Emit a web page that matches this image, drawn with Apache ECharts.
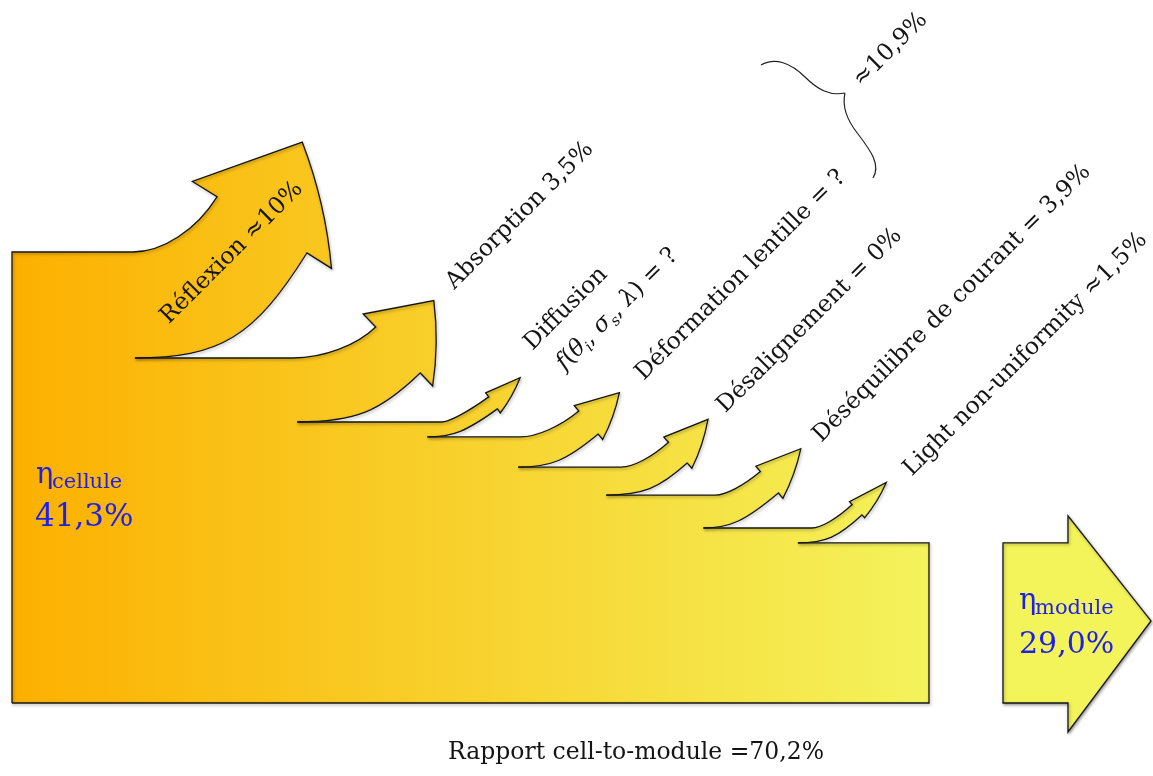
<!DOCTYPE html>
<html><head><meta charset="utf-8">
<script src="https://cdn.jsdelivr.net/npm/echarts@6/dist/echarts.min.js"></script>
<style>html,body{margin:0;padding:0;background:#fff}#chart{width:1153px;height:776px}</style>
</head><body><div id="chart"></div>
<script>
// ---------------- data ----------------
const lossLabels = ['Réflexion ≈10%', 'Absorption 3,5%', 'Diffusion', 'Déformation lentille = ?',
  'Désalignement = 0%', 'Déséquilibre de courant = 3,9%', 'Light non-uniformity ≈1,5%'];
// drawn thickness of each loss arrow, as a share (%) of the incoming cell flow
const lossBand = [23.5, 14.2, 3.3, 6.7, 6.2, 7.3, 3.3];
// drawn thickness of what reaches the module
const moduleBand = 35.5;
const cellEff = ['η', 'cellule', '41,3%'];
const moduleEff = ['η', 'module', '29,0%'];
const groupLoss = '≈10,9%';
const ratioLabel = 'Rapport cell-to-module =70,2%';

// ---------------- layout / style ----------------
const FONT = 'DejaVu Serif';
const FS = 23.5;
const INK = '#141414';
const BLUE = '#1F1FEA';
// where each loss leaves the flow (0-100 along the body) and the arrow shape (px)
const arrowLayout = [
  {at: 13.4, theta: 58, tipRot: 6, reach: 172, rise: 105, head: 92, barb: 29, taper: 1.0, uoff: -2, inside: [-30, 28], rot: 45},
  {at: 31.1, theta: 44, tipRot: 10, reach: 123, rise: 49, head: 61, barb: 18, taper: 1.0, uoff: -4, lab: [21, -10]},
  {at: 45.3, theta: 36, tipRot: 7, reach: 70, rise: 28, head: 37, barb: 5, taper: 1.0, uoff: 14, lab: [13, -26], lab2: [45, -6]},
  {at: 55.2, theta: 40, tipRot: 4, reach: 80, rise: 33, head: 43, barb: 7, taper: 1.0, uoff: 2, lab: [25, -11]},
  {at: 64.8, theta: 42, tipRot: 6, reach: 81, rise: 32, head: 45, barb: 7, taper: 1.0, uoff: 15, lab: [18, -5]},
  {at: 75.4, theta: 40, tipRot: 7, reach: 75, rise: 35, head: 46, barb: 7, taper: 0.85, uoff: 12, lab: [21, -5]},
  {at: 85.7, theta: 43, tipRot: 0, reach: 64, rise: 28, head: 40, barb: 4, taper: 0.95, uoff: 14, lab: [26, -5]}
];

const total = lossBand.reduce((a, b) => a + b, 0) + moduleBand;
const lossData = lossBand.map((v, i) => [i, v, total - lossBand.slice(0, i).reduce((a, b) => a + b, 0)]);

function grad(api) {
  const x1 = api.coord([0, 0])[0], x2 = api.coord([100, 0])[0];
  return {type: 'linear', x: x1, y: 0, x2: x2, y2: 0, global: true,
    colorStops: [{offset: 0, color: '#FCB000'}, {offset: 1, color: '#F4F35C'}]};
}
const outlineStyle = {fill: 'none', stroke: INK, lineWidth: 1.3, shadowBlur: 3,
  shadowColor: 'rgba(0,0,0,0.35)', shadowOffsetX: 1, shadowOffsetY: 1.5};

function rotText(bx, by, text, rotDeg, extra) {
  const r = rotDeg * Math.PI / 180;
  const ax = bx - 0.3 * FS * Math.sin(r), ay = by - 0.3 * FS * Math.cos(r);
  return {type: 'text', x: ax, y: ay, rotation: r, z2: 20, silent: true,
    style: Object.assign({text: text, fontFamily: FONT, fontSize: FS, fill: INK,
      align: 'left', verticalAlign: 'middle'}, extra || {})};
}
const P = p => p[0].toFixed(1) + ' ' + p[1].toFixed(1);

function renderLoss(params, api) {
  const i = api.value(0), band = api.value(1), top = api.value(2);
  const L = arrowLayout[i];
  const x0 = api.coord([L.at, 0])[0];
  const yt = api.coord([0, top])[1];
  const yb = api.coord([0, top - band])[1];
  const xLeft = api.coord([0, 0])[0], yBottom = api.coord([0, 0])[1];
  const prevX = i === 0 ? xLeft : api.coord([arrowLayout[i - 1].at, 0])[0];
  const th = L.theta * Math.PI / 180, s = Math.sin(th), c = Math.cos(th);
  const d = [c, -s], nb = [-s, -c];
  const tt = (L.theta + L.tipRot) * Math.PI / 180, dt = [Math.cos(tt), -Math.sin(tt)];
  const w = (yb - yt) * L.taper;
  const Lp = [x0 + L.reach, yb - L.rise];
  const Up = [Lp[0] + w * nb[0], Lp[1] + w * nb[1]];
  const Mp = [(Lp[0] + Up[0]) / 2, (Lp[1] + Up[1]) / 2];
  const tip = [Mp[0] + L.head * dt[0], Mp[1] + L.head * dt[1]];
  const ob = [Up[0] + L.barb * nb[0], Up[1] + L.barb * nb[1]];
  const ib = [Lp[0] - L.barb * nb[0], Lp[1] - L.barb * nb[1]];
  // lower edge
  const fl = 0.8, sL = (yb - Lp[1]) / s;
  const cL = [Lp[0] - sL * c, yb];
  const cl1 = [x0 + fl * (cL[0] - x0), yb];
  const cl2 = [Lp[0] + fl * (cL[0] - Lp[0]), Lp[1] + fl * (yb - Lp[1])];
  // upper edge
  const fu = 0.6, Su = [x0 + L.uoff, yt], sU = (yt - Up[1]) / s;
  const cU = [Math.max(Up[0] - sU * c, Su[0]), yt];
  const cu1 = [Su[0] + fu * (cU[0] - Su[0]), yt];
  const cu2 = [Up[0] + fu * (cU[0] - Up[0]), Up[1] + fu * (yt - Up[1])];
  // bulge of outer head side
  const mid = [(tip[0] + ib[0]) / 2, (tip[1] + ib[1]) / 2];
  const e = [ib[0] - tip[0], ib[1] - tip[1]], el = Math.hypot(e[0], e[1]);
  let nrm = [e[1] / el, -e[0] / el];
  const cen = [Mp[0] + L.head / 3 * dt[0], Mp[1] + L.head / 3 * dt[1]];
  if ((mid[0] - cen[0]) * nrm[0] + (mid[1] - cen[1]) * nrm[1] < 0) nrm = [-nrm[0], -nrm[1]];
  const qc = [mid[0] + 0.07 * el * nrm[0], mid[1] + 0.07 * el * nrm[1]];

  const arrowPart = 'L ' + P(Su) + ' C ' + P(cu1) + ' ' + P(cu2) + ' ' + P(Up) + ' L ' + P(ob) +
    ' L ' + P(tip) + ' Q ' + P(qc) + ' ' + P(ib) + ' L ' + P(Lp) + ' C ' + P(cl2) + ' ' + P(cl1) +
    ' ' + P([x0, yb]);
  const xs = Math.min(Su[0], x0) - 1;
  const fill = grad(api);
  const children = [
    {type: 'rect', z2: 0, silent: true,
      shape: {x: prevX - (i === 0 ? 0 : 1), y: yt, width: x0 + 1 - prevX + (i === 0 ? 0 : 1), height: yBottom - yt},
      style: {fill: fill}},
    {type: 'path', z2: 1, silent: true,
      shape: {pathData: 'M ' + P([xs, yt]) + ' ' + arrowPart + ' L ' + P([xs, yb]) + ' Z'},
      style: {fill: fill}},
    {type: 'path', z2: 10, silent: true,
      shape: {pathData: (i === 0 ? 'M ' + P([xLeft, yBottom]) + ' L ' + P([xLeft, yt]) : 'M ' + P([prevX, yt])) + ' ' + arrowPart},
      style: outlineStyle}
  ];
  if (L.inside) {
    children.push({type: 'text', x: Mp[0] + L.inside[0], y: Mp[1] + L.inside[1], rotation: L.rot * Math.PI / 180,
      z2: 20, silent: true,
      style: {text: lossLabels[i], fontFamily: FONT, fontSize: FS, fill: INK, align: 'center', verticalAlign: 'middle'}});
  } else {
    children.push(rotText(tip[0] + L.lab[0], tip[1] + L.lab[1], lossLabels[i], 45));
    if (L.lab2) {
      const tok = {fontFamily: FONT, fontSize: FS, lineHeight: 30, fill: INK};
      children.push(rotText(tip[0] + L.lab2[0], tip[1] + L.lab2[1],
        '{i|f}{n|(}{i|θ}{s|i}{n|, }{i|σ}{s|s}{n|, }{i|λ}{n|) = ?}', 45, {
          rich: {
            n: tok,
            i: Object.assign({}, tok, {fontStyle: 'italic'}),
            s: {fontFamily: FONT, fontSize: 15, lineHeight: 15, fontStyle: 'italic', fill: INK, verticalAlign: 'bottom'}
          }
        }));
    }
  }
  return {type: 'group', children: children};
}

function renderModule(params, api) {
  const band = api.value(0);
  const top = api.coord([0, band])[1], bottom = api.coord([0, 0])[1];
  const xL = api.coord([0, 0])[0], xR = api.coord([100, 0])[0];
  const lastX = api.coord([arrowLayout[arrowLayout.length - 1].at, 0])[0];
  const sx = xR + 74, hx = xR + 139, tx = xR + 222, my = (top + bottom) / 2 - 2;
  const ht = top - 27, hb = bottom + 29;
  const fill = grad(api);
  const blueText = (x, y, t, fs) => ({type: 'text', x: x, y: y, z2: 20, silent: true,
    style: {text: t, fontFamily: FONT, fontSize: fs, fill: BLUE, align: 'left', verticalAlign: 'middle'}});
  const r45 = Math.PI / 4;
  return {type: 'group', children: [
    {type: 'rect', z2: 0, silent: true, shape: {x: lastX - 1, y: top, width: xR - lastX + 1, height: bottom - top},
      style: {fill: fill}},
    {type: 'path', z2: 10, silent: true,
      shape: {pathData: 'M ' + P([lastX, top]) + ' L ' + P([xR, top]) + ' L ' + P([xR, bottom]) + ' L ' + P([xL, bottom])},
      style: outlineStyle},
    {type: 'path', z2: 10, silent: true,
      shape: {pathData: 'M ' + P([sx, top]) + ' L ' + P([hx, top]) + ' L ' + P([hx, ht]) + ' L ' + P([tx, my]) +
        ' L ' + P([hx, hb]) + ' L ' + P([hx, bottom]) + ' L ' + P([sx, bottom]) + ' Z'},
      style: Object.assign({}, outlineStyle, {fill: '#F3F35A'})},
    // module efficiency
    blueText(sx + 16, 610 - 0.3 * 29, moduleEff[0], 29),
    blueText(sx + 32, 615 - 0.3 * 21, moduleEff[1], 21),
    blueText(sx + 16, 654 - 0.3 * 30, moduleEff[2], 30),
    // cell efficiency
    blueText(xL + 24, 484 - 0.3 * 29, cellEff[0], 29),
    blueText(xL + 40, 489 - 0.3 * 21, cellEff[1], 21),
    blueText(xL + 23, 527 - 0.3 * 31, cellEff[2], 31),
    // brace grouping some losses, and its total
    {type: 'path', z2: 10, silent: true,
      shape: {pathData: 'M 761 65 C 775 57 791 63 805 77 C 818 90 830 96 845 93 M 845 93 C 842 106 846 119 858 134 C 871 151 881 165 873 178'},
      style: {fill: 'none', stroke: '#222', lineWidth: 1.2}},
    {type: 'text', z2: 20, silent: true, x: 862 - 0.3 * FS * Math.sin(r45), y: 88 - 0.3 * FS * Math.cos(r45),
      rotation: r45,
      style: {text: groupLoss, fontFamily: FONT, fontSize: FS, fill: INK, align: 'left', verticalAlign: 'middle'}},
    {type: 'text', z2: 20, silent: true, x: 636, y: 760 - 0.3 * FS,
      style: {text: ratioLabel, fontFamily: FONT, fontSize: FS, fill: INK, align: 'center', verticalAlign: 'middle'}}
  ]};
}

const chart = echarts.init(document.getElementById('chart'), null, {renderer: 'canvas'});
chart.setOption({
  animation: false,
  backgroundColor: '#fff',
  grid: {left: 12, top: 252, width: 917, height: 451},
  xAxis: {type: 'value', min: 0, max: 100, show: false},
  yAxis: {type: 'value', min: 0, max: total, show: false},
  series: [
    {type: 'custom', clip: false, silent: true, renderItem: renderLoss, data: lossData},
    {type: 'custom', clip: false, silent: true, renderItem: renderModule, data: [[moduleBand]]}
  ]
});
</script></body></html>
